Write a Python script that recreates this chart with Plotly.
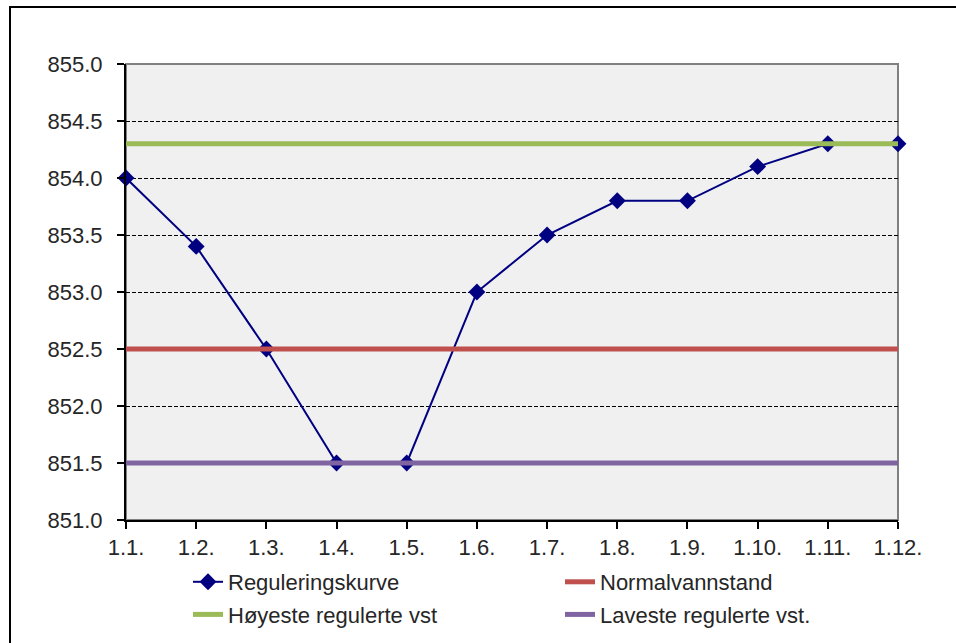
import plotly.graph_objects as go

dates = ["1.1.", "1.2.", "1.3.", "1.4.", "1.5.", "1.6.", "1.7.", "1.8.", "1.9.", "1.10.", "1.11.", "1.12."]
regulering = [854.0, 853.4, 852.5, 851.5, 851.5, 853.0, 853.5, 853.8, 853.8, 854.1, 854.3, 854.3]
normal_level = 852.5
hoyeste_level = 854.3
laveste_level = 851.5

normal = [normal_level] * len(dates)
hoyeste = [hoyeste_level] * len(dates)
laveste = [laveste_level] * len(dates)

FONT = "Liberation Sans, Arial, sans-serif"
FS = 22

fig = go.Figure()
fig.add_trace(go.Scatter(x=dates, y=regulering, name="Reguleringskurve", mode="lines+markers",
                         line=dict(color="#000080", width=2),
                         marker=dict(symbol="diamond", size=13, color="#000080"),
                         cliponaxis=False, legend="legend", legendgroup="a"))
fig.add_trace(go.Scatter(x=dates, y=normal, name="Normalvannstand", mode="lines",
                         line=dict(color="#C0504D", width=5), legend="legend2", legendgroup="b"))
fig.add_trace(go.Scatter(x=dates, y=hoyeste, name="Høyeste regulerte vst", mode="lines",
                         line=dict(color="#9BBB59", width=5), legend="legend", legendgroup="c"))
fig.add_trace(go.Scatter(x=dates, y=laveste, name="Laveste regulerte vst.", mode="lines",
                         line=dict(color="#8064A2", width=5), legend="legend2", legendgroup="d"))

L, R, T, B = 126, 58, 64, 123
W, H = 956, 643
pw, ph = W - L - R, H - T - B

def px_x(p):
    return (p - L) / pw

def px_y(p):
    return (H - B - p) / ph

legend_common = dict(orientation="v", xanchor="left", yanchor="top",
                     font=dict(size=FS, family=FONT, color="#262626"),
                     bgcolor="rgba(0,0,0,0)", traceorder="grouped", tracegroupgap=1)

fig.update_layout(
    width=W, height=H,
    margin=dict(l=L, r=R, t=T, b=B, autoexpand=False),
    paper_bgcolor="white",
    plot_bgcolor="#F0F0F0",
    font=dict(family=FONT, size=FS, color="#262626"),
    showlegend=True,
    legend=dict(x=px_x(188), y=px_y(561), **legend_common),
    legend2=dict(x=px_x(560), y=px_y(561), **legend_common),
    xaxis=dict(type="category", range=[0, len(dates) - 1], showgrid=False,
               showline=True, linecolor="#000", linewidth=2,
               ticks="outside", ticklen=7, tickcolor="#000", tickwidth=1.5,
               tickfont=dict(size=FS), zeroline=False),
    yaxis=dict(range=[851, 855], dtick=0.5, tickformat=".1f",
               showgrid=True, gridcolor="#000", gridwidth=1, griddash="4px,2px",
               showline=True, linecolor="#000", linewidth=2,
               ticks="outside", ticklen=7, tickcolor="#000", tickwidth=1.5,
               ticklabelstandoff=10,
               tickfont=dict(size=FS), zeroline=False),
    shapes=[
        dict(type="rect", xref="paper", yref="paper", x0=0, x1=1, y0=0, y1=1,
             line=dict(color="#808080", width=2), layer="below"),
        dict(type="rect", xref="paper", yref="paper", x0=px_x(10), x1=px_x(1000),
             y0=px_y(700), y1=px_y(7), line=dict(color="#000", width=2)),
    ],
)

fig.write_html("out.html", config={"displayModeBar": False},
               post_script="document.body.style.margin='0';document.body.style.overflow='hidden';")
